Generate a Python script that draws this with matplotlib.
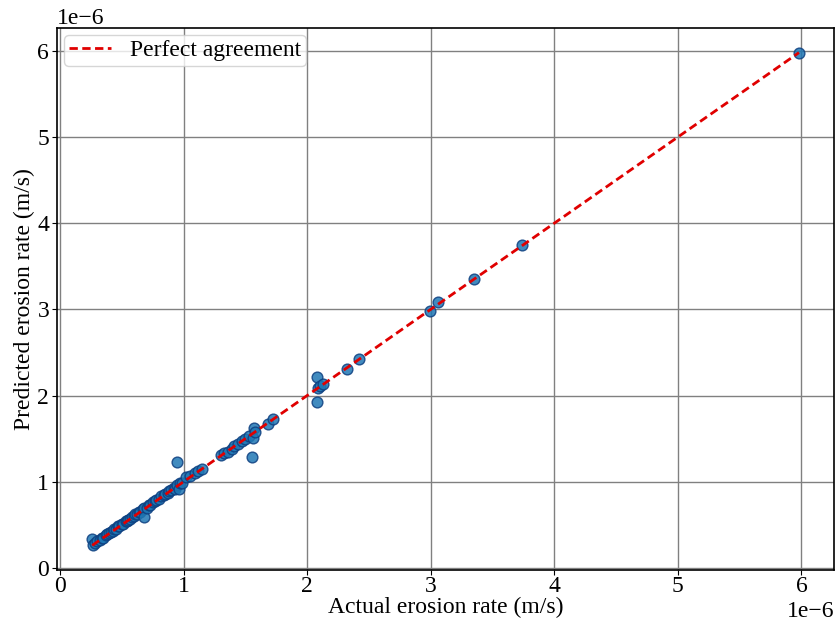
import numpy as np
import matplotlib.pyplot as plt

plt.rcParams['font.family'] = ['Liberation Serif', 'DejaVu Serif']
plt.rcParams['font.size'] = 17

# valeurs (unité 1e-6 m/s)
actual = [0.26, 0.27, 0.28, 0.30, 0.32, 0.34, 0.35, 0.37, 0.38, 0.40, 0.41, 0.43,
          0.44, 0.45, 0.47, 0.48, 0.50, 0.51, 0.53, 0.54, 0.55, 0.57, 0.58, 0.60,
          0.61, 0.62, 0.64, 0.65, 0.67, 0.68, 0.68, 0.70, 0.72, 0.73, 0.75, 0.77,
          0.78, 0.80, 0.82, 0.84, 0.85, 0.87, 0.88, 0.90, 0.92, 0.93, 0.95, 0.95,
          0.96, 0.97, 0.99, 1.02, 1.05, 1.09, 1.12, 1.15,
          1.30, 1.33, 1.36, 1.39, 1.41, 1.44, 1.47, 1.50, 1.53, 1.55, 1.56, 1.57,
          1.58, 1.68, 1.72,
          2.08, 2.08, 2.09, 2.10, 2.13, 2.32, 2.42, 2.99, 3.06, 3.35, 3.74, 5.98]
predicted = [0.34, 0.27, 0.29, 0.31, 0.32, 0.35, 0.35, 0.38, 0.39, 0.40, 0.42, 0.43,
             0.45, 0.45, 0.48, 0.48, 0.51, 0.51, 0.54, 0.54, 0.56, 0.57, 0.59, 0.60,
             0.62, 0.62, 0.65, 0.65, 0.68, 0.69, 0.59, 0.70, 0.73, 0.73, 0.76, 0.77,
             0.79, 0.80, 0.83, 0.84, 0.86, 0.87, 0.89, 0.90, 0.93, 0.92, 0.96, 1.23,
             0.91, 0.98, 0.99, 1.05, 1.07, 1.10, 1.12, 1.15,
             1.31, 1.33, 1.35, 1.38, 1.41, 1.44, 1.47, 1.50, 1.53, 1.29, 1.51, 1.62,
             1.58, 1.67, 1.73,
             2.22, 1.93, 2.09, 2.11, 2.13, 2.31, 2.42, 2.98, 3.08, 3.35, 3.75, 5.98]

actual = np.array(actual) * 1e-6
predicted = np.array(predicted) * 1e-6

fig, ax = plt.subplots(figsize=(8.36, 6.21), dpi=100)
fig.subplots_adjust(left=0.068, right=0.998, bottom=0.082, top=0.955)

ax.scatter(actual, predicted, s=60, c='#1f77b4', edgecolors='#0d3f80',
           linewidths=1, alpha=0.85, zorder=3)
ax.plot([actual.min(), actual.max()], [actual.min(), actual.max()], '--',
        color='#e00000', lw=2, dashes=(3, 1.6), label="Perfect agreement", zorder=4)

ax.set_xlabel("Actual erosion rate (m/s)", labelpad=0)
ax.set_ylabel("Predicted erosion rate (m/s)", labelpad=2)
ax.tick_params(axis='x', pad=1)
ax.tick_params(axis='y', pad=2)
ax.xaxis.get_offset_text().set_y(-0.005)
ax.grid(True, color='gray', linewidth=1)
ax.set_axisbelow(True)
for s in ax.spines.values():
    s.set_linewidth(1.2)
ax.legend(loc='upper left', borderaxespad=0.3, handlelength=1.8,
          borderpad=0.2, fontsize=17)

plt.savefig("out.png", dpi=100)
